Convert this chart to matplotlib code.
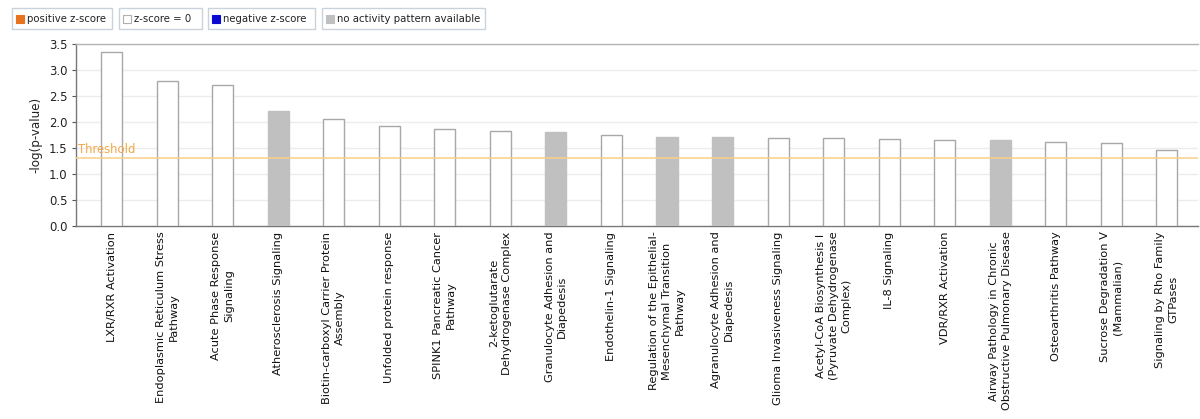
import matplotlib
matplotlib.use("Agg")
import matplotlib.pyplot as plt
from matplotlib.patches import Rectangle

pathways = [
    "LXR/RXR Activation",
    "Endoplasmic Reticulum Stress\nPathway",
    "Acute Phase Response\nSignaling",
    "Atherosclerosis Signaling",
    "Biotin-carboxyl Carrier Protein\nAssembly",
    "Unfolded protein response",
    "SPINK1 Pancreatic Cancer\nPathway",
    "2-ketoglutarate\nDehydrogenase Complex",
    "Granulocyte Adhesion and\nDiapedesis",
    "Endothelin-1 Signaling",
    "Regulation of the Epithelial-\nMesenchymal Transition\nPathway",
    "Agranulocyte Adhesion and\nDiapedesis",
    "Glioma Invasiveness Signaling",
    "Acetyl-CoA Biosynthesis I\n(Pyruvate Dehydrogenase\nComplex)",
    "IL-8 Signaling",
    "VDR/RXR Activation",
    "Airway Pathology in Chronic\nObstructive Pulmonary Disease",
    "Osteoarthritis Pathway",
    "Sucrose Degradation V\n(Mammalian)",
    "Signaling by Rho Family\nGTPases",
]
neg_log_p = [3.34, 2.78, 2.72, 2.21, 2.05, 1.93, 1.87, 1.82, 1.80, 1.75,
             1.72, 1.72, 1.70, 1.69, 1.67, 1.65, 1.65, 1.62, 1.60, 1.47]
# z-score status: "zero" = z-score 0, "na" = no activity pattern available
status = ["zero", "zero", "zero", "na", "zero", "zero", "zero", "zero", "na", "zero",
          "na", "na", "zero", "zero", "zero", "zero", "na", "zero", "zero", "zero"]
threshold = 1.30
y_ticks = [0.0, 0.5, 1.0, 1.5, 2.0, 2.5, 3.0, 3.5]

legend_labels = ["positive z-score", "z-score = 0", "negative z-score",
                 "no activity pattern available"]
legend_colors = ["#e8731f", "#ffffff", "#0a0ad2", "#c0c0c0"]

W, H = 1200, 419
fig = plt.figure(figsize=(W / 100, H / 100), dpi=100)
plt.rcParams["font.family"] = ["DejaVu Sans"]


def px(x, y):
    return x / W, 1 - y / H


ax_left, ax_right, ax_top, ax_bottom = 76, 1198, 44, 226
ax = fig.add_axes([ax_left / W, 1 - ax_bottom / H,
                   (ax_right - ax_left) / W, (ax_bottom - ax_top) / H])

x = list(range(len(pathways)))
for xi, v, s in zip(x, neg_log_p, status):
    if s == "na":
        ax.bar(xi, v, width=0.38, color="#c0c0c0", edgecolor="#c0c0c0",
               linewidth=1, zorder=3)
    else:
        ax.bar(xi, v, width=0.38, color="white", edgecolor="#a8a8a8",
               linewidth=1, zorder=3)

ax.axhline(threshold, color="#f6cf86", linewidth=1.1, zorder=4)
ax.text(0.002, threshold + 0.04, "Threshold", transform=ax.get_yaxis_transform(),
        color="#f2a845", fontsize=8.4, ha="left", va="bottom", zorder=5)

ax.set_xlim(-0.64, 19.56)
ax.set_ylim(0, 3.5)
ax.set_yticks(y_ticks)
ax.set_yticklabels([f"{t:.1f}" for t in y_ticks], fontsize=8.4, color="#222222")
ax.yaxis.grid(True, color="#ececec", linewidth=1, zorder=0)
ax.set_axisbelow(True)
ax.tick_params(axis="y", length=3, width=0.8, color="#555555", pad=3)
ax.set_xticks(x)
ax.set_xticklabels(pathways, rotation=90, ha="center", va="top",
                   multialignment="center", fontsize=8.2, color="#111111",
                   linespacing=1.35)
ax.tick_params(axis="x", length=0, pad=4)
ax.set_ylabel("-log(p-value)", fontsize=8.6, color="#222222", labelpad=5)

for side in ("left", "bottom"):
    ax.spines[side].set_color("#777777")
    ax.spines[side].set_linewidth(1)
ax.spines["top"].set_color("#b5b5b5")
ax.spines["top"].set_linewidth(1)
ax.spines["right"].set_visible(False)

# legend strip across the top
boxes = [(12, 112), (119, 202), (208, 315), (322, 485)]
for (b0, b1), lab, col in zip(boxes, legend_labels, legend_colors):
    fx, fy = px(b0, 29)
    fig.add_artist(Rectangle((fx, fy), (b1 - b0) / W, 21 / H,
                             transform=fig.transFigure, facecolor="white",
                             edgecolor="#c9d3dd", linewidth=1))
    sx, sy = px(b0 + 4, 23)
    fig.add_artist(Rectangle((sx, sy), 8 / W, 8 / H, transform=fig.transFigure,
                             facecolor=col,
                             edgecolor="#b0b0b0" if col == "#ffffff" else col,
                             linewidth=0.8))
    tx, ty = px(b0 + 15, 18.5)
    fig.text(tx, ty, lab, fontsize=7.3, color="#222222", ha="left", va="center")

fig.savefig("out.png", dpi=100, facecolor="white")
